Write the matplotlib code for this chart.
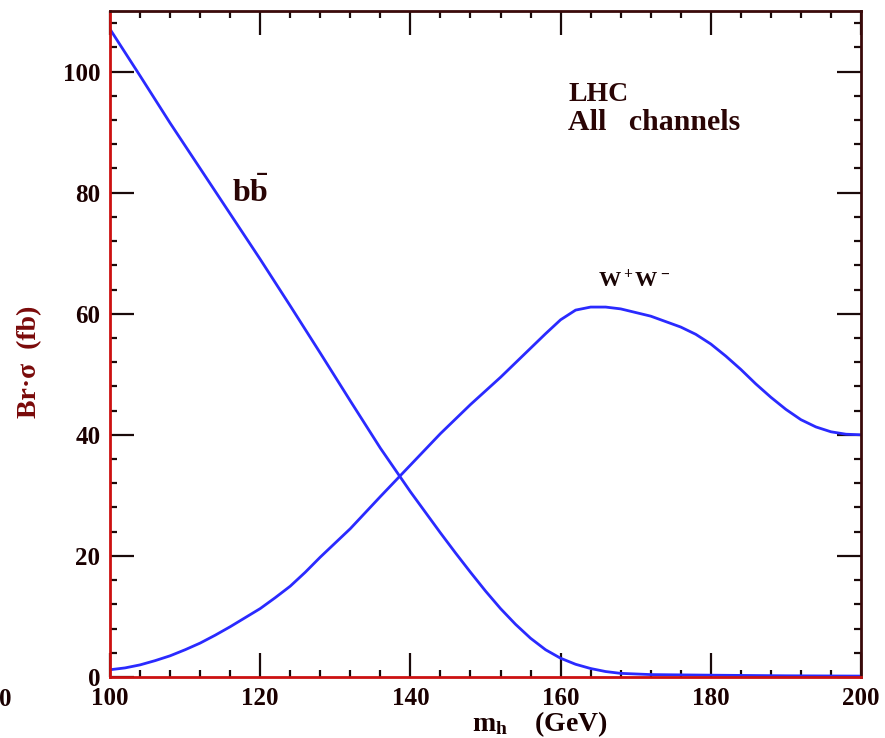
import matplotlib
matplotlib.use("Agg")
import matplotlib.pyplot as plt
from matplotlib.ticker import MultipleLocator

# ---- data ----
m_bb = [100, 104, 108, 112, 116, 120, 124, 128, 132, 136, 140, 142, 144, 146,
        148, 150, 152, 154, 156, 158, 160, 162, 164, 166, 168, 172, 180, 190, 200]
br_bb = [107, 99.3, 91.5, 84, 76.5, 69, 61.3, 53.5, 45.6, 37.8, 30.6, 27.2, 23.8,
         20.5, 17.3, 14.2, 11.3, 8.7, 6.4, 4.5, 3.1, 2.1, 1.4, 0.9, 0.6, 0.4, 0.3,
         0.2, 0.15]

m_ww = [100, 102, 104, 106, 108, 110, 112, 114, 116, 118, 120, 122, 124, 126,
        128, 132, 136, 140, 144, 148, 152, 156, 158, 160, 162, 164, 166, 168,
        172, 176, 178, 180, 182, 184, 186, 188, 190, 192, 194, 196, 198, 200]
br_ww = [1.2, 1.5, 2.0, 2.7, 3.5, 4.5, 5.6, 6.9, 8.3, 9.8, 11.3, 13.1, 15, 17.3,
         19.8, 24.5, 29.8, 35, 40.2, 45, 49.5, 54.3, 56.7, 59, 60.6, 61.1, 61.1,
         60.8, 59.6, 57.8, 56.6, 55, 53, 50.8, 48.4, 46.2, 44.2, 42.5, 41.3, 40.5,
         40.1, 40]

x_ticks = [100, 120, 140, 160, 180, 200]
y_ticks = [0, 20, 40, 60, 80, 100]

plt.rcParams['font.family'] = ['Liberation Serif', 'DejaVu Serif']
plt.rcParams['font.weight'] = 'bold'
plt.rcParams['mathtext.fontset'] = 'custom'
plt.rcParams['mathtext.rm'] = 'Liberation Serif:bold'
plt.rcParams['mathtext.bf'] = 'Liberation Serif:bold'
plt.rcParams['mathtext.it'] = 'Liberation Serif:bold'

fig = plt.figure(figsize=(8.85, 7.38), dpi=100)
ax = fig.add_axes([110 / 885, 1 - 677 / 738, (861 - 110) / 885, (677 - 11) / 738])

line_col = '#2a2aff'
ax.plot(m_bb, br_bb, color=line_col, lw=2.0)
ax.plot(m_ww, br_ww, color=line_col, lw=2.0)

ax.set_xlim(100, 200)
ax.set_ylim(0, 110)
ax.set_xticks(x_ticks)
ax.set_yticks(y_ticks)
ax.xaxis.set_minor_locator(MultipleLocator(4))
ax.yaxis.set_minor_locator(MultipleLocator(4))

tick_col = '#1a0a0a'
ax.tick_params(which='both', direction='in', top=True, right=True, color=tick_col,
               width=1.6, labelsize=18, labelcolor='#1a0000')
ax.tick_params(which='major', length=17)
ax.tick_params(which='minor', length=5)
ax.tick_params(axis='x', pad=7.5)
ax.tick_params(axis='y', pad=7)
for lab in ax.get_xticklabels() + ax.get_yticklabels():
    lab.set_fontweight('bold')

for side in ['left', 'bottom']:
    ax.spines[side].set_color('#cc1111')
    ax.spines[side].set_linewidth(2)
for side in ['top', 'right']:
    ax.spines[side].set_color('#3a0a0a')
    ax.spines[side].set_linewidth(2)

# annotations
ax.text(161.0, 96.2, 'LHC', fontsize=20, fontweight='bold', color='#2a0505',
        ha='left', va='center')
ax.text(161.0, 91.6, 'All   channels', fontsize=21.5, fontweight='bold',
        color='#2a0505', ha='left', va='center')
ax.text(118.7, 79.9, r'$\mathbf{b\bar{b}}$', fontsize=23, color='#2a0505',
        ha='center', va='center')
ax.text(169.8, 65.6, r'$\mathbf{W^+W^-}$', fontsize=16, color='#1a0505',
        ha='center', va='center')

# axis labels
fig.text(540 / 885, 1 - 724 / 738, r'$\mathbf{m_h}$    (GeV)', fontsize=20,
         fontweight='bold', color='#1a0000', ha='center', va='center')
fig.text(30 / 885, 1 - 362 / 738, 'Br·σ  (fb)', fontsize=20, fontweight='bold',
         color='#7a0a0a', rotation=90, ha='center', va='center')
fig.text(5 / 885, 1 - 699 / 738, '0', fontsize=18, fontweight='bold',
         color='#1a0000', ha='center', va='center')

fig.savefig('out.png', dpi=100)
